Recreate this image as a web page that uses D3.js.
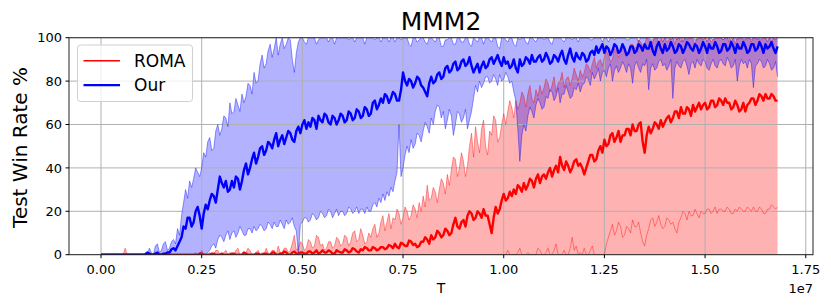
<!DOCTYPE html>
<html>
<head>
<meta charset="utf-8">
<script src="https://cdn.jsdelivr.net/npm/d3@7"></script>
<style>
  body { margin: 0; background: #fff; }
  text { font-family: "DejaVu Sans", sans-serif; }
</style>
</head>
<body>
<div id="chart"></div>
<script>
// one sample every 0.005e7 env steps, from 0 to 1.68e7 (20 samples per row)
const stepSize = 5e4;

const romaMean = [
  0,0,0,0,0,0,0,0,0,0,0,0,0,0,0,0,0,0,0,0,
  0,0,0,0,0,0,0,0,0,0,0,0,0,0,0,0,0,0,0,0,
  0,0,0,0,0,0,0,0,0,0.5,0.5,0,0,0,0,0.5,0.5,0,0,0,
  0.5,0,0,0,0,0.5,0.5,0,0,0,0,1,0.5,0,0,0,0,0.5,0.5,0,
  0,0.5,0.5,0,0,1,1,0,0,0.5,0.5,1.5,1,0,0,1,1.5,0.5,0.5,1,
  1,0.5,0.5,1.5,1.5,0.5,1,2,0.5,1,2,1,1,2,1.5,0.5,0.5,2,1.5,1,
  1,2.5,2,1,1.5,3,2.5,1.5,1,2.5,2,3.5,3,2,2,3.5,3,2,2.5,3.5,
  3.5,2.5,3,4.5,4,3,5,3.5,3,5.5,5,4,4,6.5,6,4.5,5,3.5,4,6,
  6,8,7,5,9,7,8,11,10,8,9,12,11,9,10,14,17,13,12,15,
  16,13,18,20,19,16,17,20,19,17,21,18,18,14,10,17,22,19,21,25,
  28,25,26,29,27,30,28,32,31,29,33,30,32,35,34,31,35,37,33,36,
  37,35,38,40,36,39,41,38,45,41,39,43,41,38,40,43,44,41,42,40,
  37,40,43,46,46,43,44,48,50,47,53,50,51,55,56,52,54,57,52,55,
  55,58,58,55,60,57,57,60,61,52,47,55,59,56,58,61,60,58,62,59,
  61,63,64,61,63,66,66,63,68,65,65,68,67,64,69,66,68,70,67,69,
  70,67,68,71,71,68,69,72,71,69,72,70,70,67,68,71,69,66,67,70,
  66,69,70,72,72,69,71,74,73,71,74,72,72,74,73,71,71
];
const romaMin = [
  0,0,0,0,0,0,0,0,0,0,0,0,0,0,0,0,0,0,0,0,
  0,0,0,0,0,0,0,0,0,0,0,0,0,0,0,0,0,0,0,0,
  0,0,0,0,0,0,0,0,0,0,0,0,0,0,0,0,0,0,0,0,
  0,0,0,0,0,0,0,0,0,0,0,0,0,0,0,0,0,0,0,0,
  0,0,0,0,0,0,0,0,0,0,0,0,0,0,0,0,0,0,0,0,
  0,0,0,0,0,0,0,0,0,0,0,0,0,0,0,0,0,0,0,0,
  0,0,0,0,0,0,0,0,0,0,0,0,0,0,0,0,0,0,0,0,
  0,0,0,0,0,0,0,0,0,0,0,0,0,0,0,0,0,0,0,0,
  0,0,0,0,0,0,0,0,0,0,0,0,0,0,0,0,0,0,0,0,
  0,0,0,0,0,0,0,0,0,0,0,0,0,0,0,0,0,0,0,0,
  0,0,2,0,0,0,0,1,3,0,0,0,1,0,0,0,0,3,2,0,
  0,1,3,0,0,2,5,0,0,0,2,0,0,3,8,2,4,0,1,0,
  3,0,0,2,4,0,0,0,0,0,0,5,8,11,14,9,11,15,13,8,
  9,13,12,10,16,13,13,15,10,6,4,9,12,16,17,13,15,18,14,12,
  13,17,16,14,15,12,10,15,17,20,19,16,20,18,18,21,19,17,20,19,
  19,21,21,19,20,22,19,21,21,20,20,22,21,19,19,21,20,22,21,20,
  20,22,21,20,22,20,20,22,21,19,19,21,21,23,22,21,22
];
const romaMax = [
  0,0,0,0,0,0,0,0,0,0,0,0,3,0,0,0,0,0,0,0,
  0,0,0,0,0,0,0,0,0,0,0,0,0,0,0,0,0,0,0,0,
  0,0,0,0,0,0,0,1,0,0,2,0,0,0,1,0,0,2,2,0,
  0,1,2,0,1,0,0,2,3,0,0,1,1,3,2,0,0,1,2,0,
  1,0,3,1,0,2,2,0,4,1,1,3,3,1,2,5,9,2,3,6,
  5,2,3,7,6,3,4,9,8,4,5,2,3,6,6,3,4,8,7,4,
  5,9,8,4,6,10,11,6,7,12,9,5,6,10,8,12,14,8,10,15,
  18,11,15,19,12,17,16,21,19,14,17,22,20,16,18,23,21,17,24,20,
  27,22,32,25,26,31,29,24,30,35,33,28,37,32,39,45,44,36,40,47,
  43,36,41,50,56,45,59,52,47,58,62,50,46,57,55,64,62,52,54,60,
  65,60,66,71,68,63,71,67,70,75,73,68,74,78,72,70,76,73,78,74,
  77,81,79,75,78,82,75,79,80,84,77,81,82,78,81,86,83,80,85,82,
  84,88,87,84,88,91,86,89,90,87,91,94,92,89,90,95,94,91,93,96,
  95,92,94,97,97,95,96,99,98,96,97,100,99,97,98,100,100,98,99,100,
  100,98,99,100,100,97,100,100,98,100,100,99,100,100,99,97,100,100,100,99,
  100,100,100,98,99,100,100,100,100,99,100,100,98,100,100,97,100,100,100,99,
  99,100,100,98,100,100,100,99,99,100,100,100,100,98,100,100,100
];

const ourMean = [
  0,0,0,0,0,0,0,0,0,0,0,0,0,0,0,0,0,0,0,0,
  0,0,0,1,0.5,0,0,0.5,1,0,0,0.5,0.5,1,1,2.5,3,2,4,6,
  8,13,12,17,17,13,15,20,22,18,12,19,23,21,25,28,27,24,30,36,
  33,31,34,29,30,34,31,36,35,30,34,39,42,37,40,44,47,42,45,49,
  50,46,48,52,51,49,53,56,50,53,55,51,54,57,56,53,52,57,59,56,
  60,62,58,61,59,63,62,58,64,62,61,65,64,61,60,64,63,60,62,65,
  64,61,62,66,65,62,63,67,66,63,64,68,67,64,65,70,71,67,69,72,
  70,74,73,70,72,75,74,71,71,76,84,80,78,81,80,77,79,82,81,78,
  77,75,73,79,82,79,80,83,84,81,82,86,87,84,85,88,89,85,86,89,
  90,87,88,91,87,84,86,88,84,87,89,86,87,90,91,88,90,92,89,87,
  91,88,89,86,87,90,86,84,90,87,88,91,90,88,92,89,89,91,92,89,
  90,93,91,88,89,92,91,89,92,94,90,88,92,95,91,89,93,91,90,93,
  92,89,90,93,94,92,96,93,95,97,93,96,95,92,94,97,96,93,94,97,
  95,92,93,96,96,93,94,97,96,94,97,95,95,98,94,92,96,98,95,93,
  97,94,95,98,96,93,94,97,96,93,95,98,97,95,94,97,96,93,95,98,
  96,93,97,95,95,98,96,93,94,97,97,94,95,98,96,93,97,95,95,98,
  96,93,94,97,97,94,95,98,96,93,97,95,96,98,95,93,96
];
const ourMin = [
  0,0,0,0,0,0,0,0,0,0,0,0,0,0,0,0,0,0,0,0,
  0,0,0,0,0,0,0,0,0,0,0,0,0,0,0,0,0,0,0,0,
  0,0,0,0,0,0,0,0,0,1,1,0,0,1,2,4,5,3,7,9,
  8,6,9,11,7,10,11,8,10,13,11,9,9,12,12,10,13,11,12,14,
  13,11,12,15,14,12,15,13,13,16,14,12,16,14,15,17,13,11,0,14,
  15,17,17,15,16,19,18,16,17,20,19,17,18,21,20,17,19,21,18,20,
  20,18,19,22,21,19,20,22,19,21,21,19,22,20,20,23,24,22,26,24,
  28,25,29,27,31,29,34,38,60,36,40,46,50,47,53,49,51,56,55,52,
  57,61,59,56,63,60,66,69,68,63,66,58,62,67,64,55,60,66,65,61,
  63,67,58,62,66,72,78,75,80,77,79,82,82,79,80,83,81,78,83,80,
  81,84,82,79,80,75,71,58,43,55,60,57,64,68,66,63,69,72,70,67,
  68,73,72,76,75,71,73,77,70,74,74,78,75,72,73,77,76,79,75,78,
  79,82,81,78,84,81,83,86,80,84,85,82,86,88,80,85,87,84,86,89,
  87,84,88,86,79,87,89,86,84,88,87,90,76,86,88,85,86,89,90,87,
  88,85,87,90,72,86,89,87,86,89,90,87,83,88,89,86,90,88,87,90,
  89,86,85,88,90,87,86,89,90,88,87,91,89,86,87,90,80,87,90,88,
  89,86,90,88,77,87,88,90,89,86,87,90,88,85,86,89,82
];
const ourMax = [
  0,0,0,0,0,0,0,0,0,0,0,0,0,0,0,0,0,0,0,0,
  0,0,1,0,3,1,0,4,5,1,2,5,6,2,3,6,7,5,12,9,
  18,24,30,26,34,31,35,40,38,36,40,47,45,52,54,48,49,57,60,55,
  58,64,63,59,70,65,66,72,69,66,74,70,73,79,78,74,84,79,80,88,
  92,86,88,94,97,91,95,100,92,97,100,95,97,100,99,90,84,93,98,100,
  100,98,97,100,100,100,100,97,99,100,100,100,100,98,100,100,97,100,100,100,
  100,100,100,99,100,100,98,100,100,100,100,97,100,100,100,100,99,100,100,98,
  100,100,100,98,100,100,98,100,100,99,100,100,100,97,96,100,100,98,99,100,
  100,98,97,100,100,99,98,100,100,96,96,99,99,100,100,97,97,100,100,98,
  98,100,100,97,96,100,99,98,100,100,97,100,100,99,98,100,100,96,95,100,
  100,99,98,100,100,97,96,100,99,100,100,98,97,100,100,99,98,100,100,100,
  99,100,100,98,97,100,100,100,100,99,98,100,100,100,99,100,100,98,100,100,
  100,100,100,99,99,100,100,100,100,98,100,100,98,100,100,99,100,100,100,100,
  100,99,99,100,100,100,100,98,100,100,100,100,100,99,99,100,100,100,100,98,
  100,100,100,99,100,100,99,100,100,98,100,100,100,100,100,99,99,100,100,100,
  100,98,100,100,99,100,100,100,100,99,100,100,100,98,100,100,99,100,100,100,
  100,100,100,99,100,100,99,100,100,100,100,98,100,100,100,99,100
];

const xTicks = [0, 0.25e7, 0.5e7, 0.75e7, 1e7, 1.25e7, 1.5e7, 1.75e7];
const yTicks = [0, 20, 40, 60, 80, 100];

function renderChart() {
  const width = 831, height = 305;
  const plot = { left: 69, right: 813, top: 37.7, bottom: 254.7 };

  const x = d3.scaleLinear().domain([-0.0795e7, 1.768e7]).range([plot.left, plot.right]);
  const y = d3.scaleLinear().domain([0, 100]).range([plot.bottom, plot.top]);
  const xAt = i => x(i * stepSize);

  const svg = d3.select("#chart").append("svg")
      .attr("width", width)
      .attr("height", height);

  svg.append("defs").append("clipPath")
      .attr("id", "plot-clip")
    .append("rect")
      .attr("x", plot.left)
      .attr("y", plot.top)
      .attr("width", plot.right - plot.left)
      .attr("height", plot.bottom - plot.top);

  // ROMA band is shaded down to zero, ours between its min and max runs
  const series = [
    { name: "ROMA", color: "#ff0000", mean: romaMean, min: romaMin, max: romaMax, lo: null, legendWidth: 1.5 },
    { name: "Our", color: "#0000ff", mean: ourMean, min: ourMin, max: ourMax, lo: ourMin, legendWidth: 2.2 }
  ];

  const g = svg.append("g").attr("clip-path", "url(#plot-clip)");

  const area = (lo, hi) => d3.area()
      .x((d, i) => xAt(i))
      .y0((d, i) => lo ? y(lo[i]) : y(0))
      .y1(d => y(d))(hi);

  const line = arr => d3.line()
      .x((d, i) => xAt(i))
      .y(d => y(d))(arr);

  // fills first (under the grid, like matplotlib patches)
  series.forEach(s => {
    g.append("path")
        .attr("d", area(s.lo, s.max))
        .attr("fill", s.color)
        .attr("fill-opacity", 0.3)
        .attr("stroke", "none");
  });

  // grid
  const grid = g.append("g")
      .attr("stroke", "#b0b0b0")
      .attr("stroke-width", 1);
  grid.selectAll("line.gx")
    .data(xTicks)
    .join("line")
      .attr("x1", d => x(d)).attr("x2", d => x(d))
      .attr("y1", plot.top).attr("y2", plot.bottom);
  grid.selectAll("line.gy")
    .data(yTicks)
    .join("line")
      .attr("x1", plot.left).attr("x2", plot.right)
      .attr("y1", d => y(d)).attr("y2", d => y(d));

  // min / max runs, then the means on top
  series.forEach(s => {
    [s.min, s.max].forEach(arr => {
      g.append("path")
          .attr("d", line(arr))
          .attr("fill", "none")
          .attr("stroke", s.color)
          .attr("stroke-opacity", 0.4)
          .attr("stroke-width", 1);
    });
  });
  series.forEach(s => {
    g.append("path")
        .attr("d", line(s.mean))
        .attr("fill", "none")
        .attr("stroke", s.color)
        .attr("stroke-width", 2.4)
        .attr("stroke-linejoin", "round");
  });

  // frame
  svg.append("rect")
      .attr("x", plot.left)
      .attr("y", plot.top)
      .attr("width", plot.right - plot.left)
      .attr("height", plot.bottom - plot.top)
      .attr("fill", "none")
      .attr("stroke", "#222")
      .attr("stroke-width", 1);

  // axes
  const xAxis = svg.append("g");
  xAxis.selectAll("line")
    .data(xTicks)
    .join("line")
      .attr("x1", d => x(d)).attr("x2", d => x(d))
      .attr("y1", plot.bottom).attr("y2", plot.bottom + 3.5)
      .attr("stroke", "#000");
  xAxis.selectAll("text")
    .data(xTicks)
    .join("text")
      .attr("x", d => x(d))
      .attr("y", 274)
      .attr("text-anchor", "middle")
      .style("font-size", "13px")
      .text(d => (d / 1e7).toFixed(2));

  const yAxis = svg.append("g");
  yAxis.selectAll("line")
    .data(yTicks)
    .join("line")
      .attr("x1", plot.left - 3.5).attr("x2", plot.left)
      .attr("y1", d => y(d)).attr("y2", d => y(d))
      .attr("stroke", "#000");
  yAxis.selectAll("text")
    .data(yTicks)
    .join("text")
      .attr("x", plot.left - 7)
      .attr("y", d => y(d))
      .attr("dy", "0.36em")
      .attr("text-anchor", "end")
      .style("font-size", "13px")
      .text(d => d);

  // titles
  svg.append("text")
      .attr("x", 441)
      .attr("y", 30)
      .attr("text-anchor", "middle")
      .style("font-size", "25px")
      .text("MMM2");

  svg.append("text")
      .attr("transform", "translate(27,147.5) rotate(-90)")
      .attr("text-anchor", "middle")
      .style("font-size", "20px")
      .text("Test Win Rate %");

  svg.append("text")
      .attr("x", 441)
      .attr("y", 293)
      .attr("text-anchor", "middle")
      .style("font-size", "14px")
      .text("T");

  svg.append("text")
      .attr("x", 813)
      .attr("y", 293)
      .attr("text-anchor", "end")
      .style("font-size", "13px")
      .text("1e7");

  // legend
  const legend = svg.append("g");
  legend.append("rect")
      .attr("x", 77.5)
      .attr("y", 45)
      .attr("width", 115)
      .attr("height", 56.5)
      .attr("rx", 3)
      .attr("fill", "#fff")
      .attr("fill-opacity", 0.8)
      .attr("stroke", "#d0d0d0")
      .attr("stroke-width", 1);

  const item = legend.selectAll("g.item")
    .data(series)
    .join("g")
      .attr("transform", (d, i) => `translate(0,${60.7 + i * 24.5})`);
  item.append("line")
      .attr("x1", 83.5).attr("x2", 120)
      .attr("stroke", d => d.color)
      .attr("stroke-width", d => d.legendWidth);
  item.append("text")
      .attr("x", 134)
      .attr("y", 6.2)
      .style("font-size", "17px")
      .text(d => d.name);
}

renderChart();
</script>
</body>
</html>
